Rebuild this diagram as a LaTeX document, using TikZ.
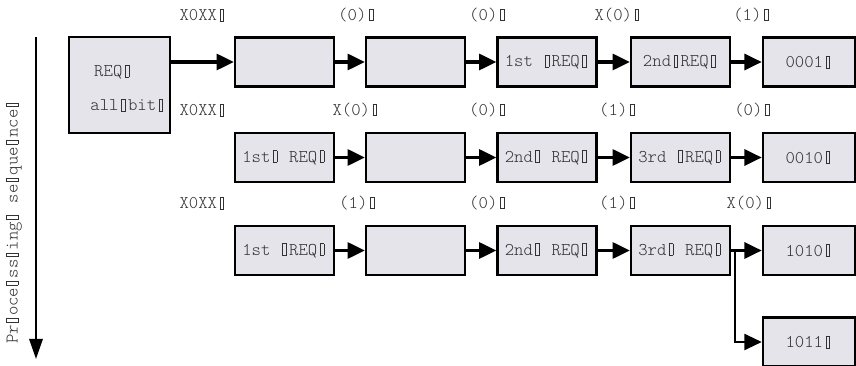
\documentclass[tikz,border=0pt]{standalone}
\usepackage{fontspec}
\newfontfamily\lighttt{Latin Modern Mono Light}
\usetikzlibrary{arrows.meta,calc}
\definecolor{boxfill}{RGB}{228,228,234}
\definecolor{ink}{RGB}{50,50,50}
% narrow hollow rectangle standing for a glyph the font could not show
\newcommand\nogl{\makebox[0.525em]{\setlength\fboxsep{0pt}\setlength\fboxrule{0.45pt}\fbox{\rule{0pt}{0.62em}\hspace{0.18em}}}}
\begin{document}
\begin{tikzpicture}[x=0.75pt,y=-0.75pt,
  txt/.style={font=\lighttt\fontsize{13.4}{15}\selectfont,text=ink},
  box/.style={txt,draw=black,fill=boxfill,line width=1.9pt,minimum width=74pt,minimum height=37pt,inner sep=0pt},
  endbox/.style={box,minimum width=69pt},
  lbl/.style={txt,inner sep=0pt},
  flow/.style={line width=2.3pt,-{Triangle[length=13pt,width=12pt]}}]
\useasboundingbox (0,0) rectangle (856,366);

% processing-order axis
\coordinate (axtop) at (36,37);
\coordinate (axend) at (36,359);
\draw[line width=1.5pt,-{Triangle[length=15pt,width=10pt]}] (axtop) -- (axend);
\node[lbl,rotate=90] (axlbl) at (14,222) {Pr\nogl oce\nogl ss\nogl ing\nogl{} se\nogl que\nogl nce\nogl};

% start box
\node[box,minimum width=76pt,minimum height=72pt] (b0) at (119.5,85) {};
\node[lbl] (b0a) at (113,72) {REQ\nogl};
\node[lbl] (b0b) at (128,105) {all\nogl bit\nogl};

% row 1
\node[box] (r1c1) at (284.5,62) {};
\node[box] (r1c2) at (415.5,62) {};
\node[box] (r1c3) at (547,62) {1st \nogl REQ\nogl};
\node[box] (r1c4) at (680.5,62) {2nd\nogl REQ\nogl};
\node[endbox] (r1c5) at (809,62) {0001\nogl};

% row 2
\node[box] (r2c1) at (284.5,157.5) {1st\nogl{} REQ\nogl};
\node[box] (r2c2) at (415.5,157.5) {};
\node[box] (r2c3) at (547,157.5) {2nd\nogl{} REQ\nogl};
\node[box] (r2c4) at (680.5,157.5) {3rd \nogl REQ\nogl};
\node[endbox] (r2c5) at (809,157.5) {0010\nogl};

% row 3
\node[box] (r3c1) at (284.5,250.5) {1st \nogl REQ\nogl};
\node[box] (r3c2) at (415.5,250.5) {};
\node[box] (r3c3) at (547,250.5) {2nd\nogl{} REQ\nogl};
\node[box] (r3c4) at (680.5,250.5) {3rd\nogl{} REQ\nogl};
\node[endbox] (r3c5) at (809,250.5) {1010\nogl};
\node[endbox] (r4c5) at (809,342) {1011\nogl};

% bit labels
\node[lbl] (l11) at (203,15) {X0XX\nogl};
\node[lbl] (l12) at (357,15) {(0)\nogl};
\node[lbl] (l13) at (488,15) {(0)\nogl};
\node[lbl] (l14) at (618,15) {X(0)\nogl};
\node[lbl] (l15) at (752,15) {(1)\nogl};

\node[lbl] (l21) at (203,110) {X0XX\nogl};
\node[lbl] (l22) at (356,110) {X(0)\nogl};
\node[lbl] (l23) at (488,110) {(0)\nogl};
\node[lbl] (l24) at (618,110) {(1)\nogl};
\node[lbl] (l25) at (753,110) {(0)\nogl};

\node[lbl] (l31) at (203,203) {X0XX\nogl};
\node[lbl] (l32) at (358,203) {(1)\nogl};
\node[lbl] (l33) at (488,203) {(0)\nogl};
\node[lbl] (l34) at (618,203) {(1)\nogl};
\node[lbl] (l35) at (750,203) {X(0)\nogl};

% connectors
\draw[flow] (b0.east |- r1c1.west) -- (r1c1.west);
\draw[flow] (r1c1) -- (r1c2);
\draw[flow] (r1c2) -- (r1c3);
\draw[flow] (r1c3) -- (r1c4);
\draw[flow] (r1c4) -- (r1c5);

\draw[flow] (r2c1) -- (r2c2);
\draw[flow] (r2c2) -- (r2c3);
\draw[flow] (r2c3) -- (r2c4);
\draw[flow] (r2c4) -- (r2c5);

\draw[flow] (r3c1) -- (r3c2);
\draw[flow] (r3c2) -- (r3c3);
\draw[flow] (r3c3) -- (r3c4);
\draw[flow] (r3c4) -- (r3c5);
\coordinate (split) at ($(r3c4.east)+(4,0)$);
\draw[flow,line width=1.6pt] (split) |- (r4c5.west);
\end{tikzpicture}
\end{document}
